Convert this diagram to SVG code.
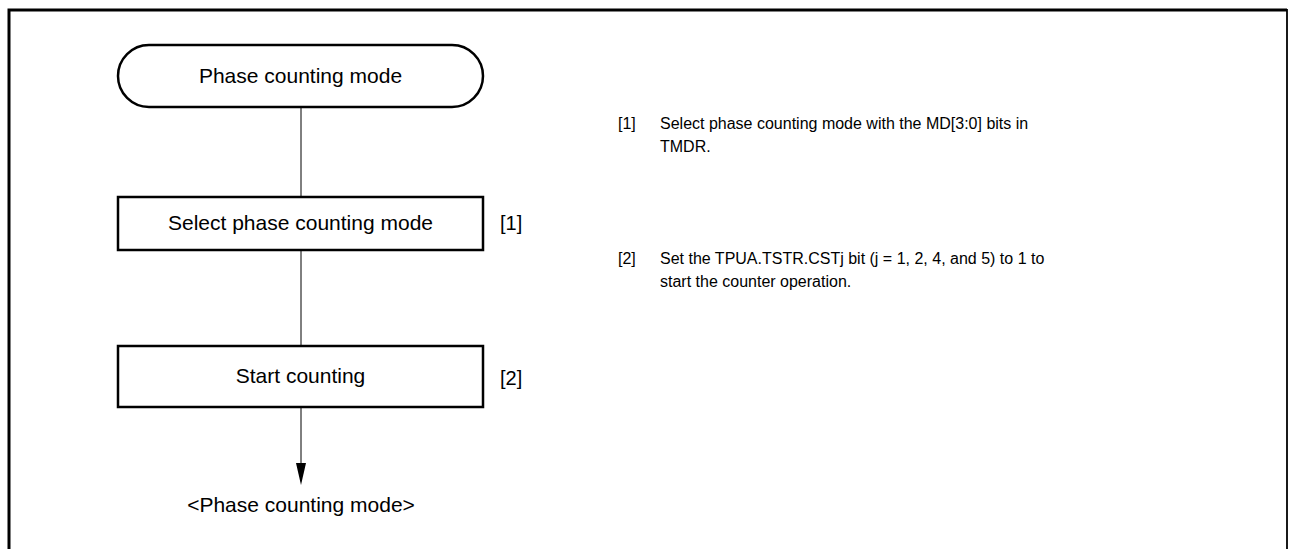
<svg xmlns="http://www.w3.org/2000/svg" width="1291" height="549" viewBox="0 0 1291 549">
<style>
.t{font-family:"Liberation Sans",Arial,sans-serif;fill:#000}
.box{font-size:21px;text-anchor:middle}
.lab{font-size:20px}
.note{font-size:16px}
.shape{fill:#fff;stroke:#000;stroke-width:2.5}
.conn{stroke:#000;stroke-width:1;fill:none}
</style>
<rect width="1291" height="549" fill="#fff"/>
<path d="M9,549 V10 H1287" fill="none" stroke="#000" stroke-width="3"/>
<line x1="1287" y1="9" x2="1287" y2="549" stroke="#000" stroke-width="1.8"/>
<g id="connectors">
<line class="conn" x1="301" y1="107" x2="301" y2="197"/>
<line class="conn" x1="301" y1="250" x2="301" y2="346"/>
<path class="conn" d="M301,407 V463"/>
<path d="M296,463 L306,463 L301,485 Z" fill="#000"/>
</g>
<g id="start">
<rect class="shape" x="118" y="45" width="365" height="62" rx="31" ry="31"/>
<text class="t box" x="300.5" y="83">Phase counting mode</text>
</g>
<g id="step1">
<rect class="shape" x="118" y="197" width="365" height="53"/>
<text class="t box" x="300.5" y="230">Select phase counting mode</text>
<text class="t lab" x="500" y="230">[1]</text>
</g>
<g id="step2">
<rect class="shape" x="118" y="346" width="365" height="61"/>
<text class="t box" x="300.5" y="383">Start counting</text>
<text class="t lab" x="500" y="385">[2]</text>
</g>
<g id="end">
<text class="t box" x="301" y="512">&lt;Phase counting mode&gt;</text>
</g>
<g id="notes">
<text class="t note" x="618" y="129">[1]</text>
<text class="t note" x="660" y="129">Select phase counting mode with the MD[3:0] bits in</text>
<text class="t note" x="660" y="152">TMDR.</text>
<text class="t note" x="618" y="264">[2]</text>
<text class="t note" x="660" y="264">Set the TPUA.TSTR.CSTj bit (j = 1, 2, 4, and 5) to 1 to</text>
<text class="t note" x="660" y="287">start the counter operation.</text>
</g>
</svg>
